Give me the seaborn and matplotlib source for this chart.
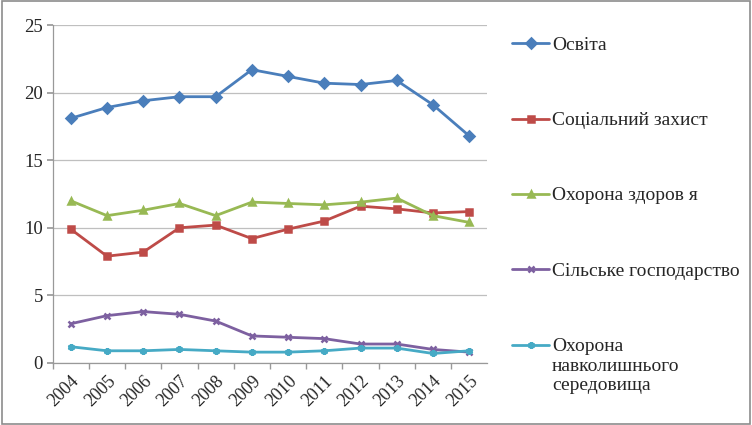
import matplotlib
matplotlib.use("Agg")
import matplotlib.pyplot as plt
import seaborn as sns
import pandas as pd
from matplotlib.patches import Rectangle

years = ["2004", "2005", "2006", "2007", "2008", "2009", "2010", "2011", "2012", "2013", "2014", "2015"]
osvita = [18.1, 18.9, 19.4, 19.7, 19.7, 21.7, 21.2, 20.7, 20.6, 20.9, 19.1, 16.8]
social = [9.9, 7.9, 8.2, 10.0, 10.2, 9.2, 9.9, 10.5, 11.6, 11.4, 11.1, 11.2]
health = [12.0, 10.9, 11.3, 11.8, 10.9, 11.9, 11.8, 11.7, 11.9, 12.2, 10.9, 10.4]
agri = [2.9, 3.5, 3.8, 3.6, 3.1, 2.0, 1.9, 1.8, 1.4, 1.4, 1.0, 0.8]
env = [1.2, 0.9, 0.9, 1.0, 0.9, 0.8, 0.8, 0.9, 1.1, 1.1, 0.7, 0.9]
labels = ["Освіта", "Соціальний захист", "Охорона здоров я", "Сільське господарство",
          "Охорона\nнавколишнього\nсередовища"]

series = [osvita, social, health, agri, env]
colors = ["#4A7EBB", "#BE4B48", "#98B954", "#7D60A0", "#46AAC5"]
markers = ["D", "s", "^", "x", (6, 2, 0)]
msizes = [8.5, 9, 9.5, 10, 10]

sns.set_theme(style="white")
plt.rcParams["font.family"] = "serif"
plt.rcParams["font.serif"] = ["Liberation Serif", "DejaVu Serif"]

fig = plt.figure(figsize=(7.52, 4.25), dpi=100)
ax = fig.add_axes([0.070, 0.146, 0.578, 0.795])

pos = list(range(len(years)))
for vals, lab, c, m, ms in zip(series, labels, colors, markers, msizes):
    df = pd.DataFrame({"x": pos, "y": vals})
    sns.lineplot(data=df, x="x", y="y", ax=ax, color=c, marker=m, markersize=ms,
                 linewidth=2.5, markeredgecolor=c, markeredgewidth=1.8, label=lab)

ax.set_xlim(-0.5, len(years) - 0.5)
ax.set_ylim(0, 25)
ax.set_yticks([0, 5, 10, 15, 20, 25])
ax.set_xticks(pos)
ax.set_xticklabels(years, rotation=45, ha="right", rotation_mode="anchor", fontsize=13,
                   fontfamily="Liberation Serif")
for t in ax.get_yticklabels():
    t.set_fontfamily("Liberation Serif")
ax.set_xticks([p + 0.5 for p in pos[:-1]] + [-0.5], minor=True)
ax.tick_params(axis="x", which="major", length=0, pad=7)
ax.tick_params(axis="x", which="minor", length=4, color="#999999", direction="out", bottom=True)
ax.tick_params(axis="y", labelsize=13.5, length=4, color="#999999", left=True, pad=3)
ax.set_xlabel("")
ax.set_ylabel("")
ax.grid(axis="y", color="#BFBFBF", linewidth=0.9)
for s in ["top", "right"]:
    ax.spines[s].set_visible(False)
for s in ["left", "bottom"]:
    ax.spines[s].set_color("#999999")
    ax.spines[s].set_linewidth(0.9)

handles, labs = ax.get_legend_handles_labels()
ax.legend_.remove()
for h in handles:
    h.set_markersize(5)
    h.set_linewidth(2)
leg = fig.legend(handles, labs, loc="upper left", bbox_to_anchor=(0.658, 0.955),
                 frameon=False, handlelength=1.9, handletextpad=0.15,
                 labelspacing=3.0, alignment="left",
                 prop={"family": "Liberation Serif", "size": 14})
for col in leg._legend_handle_box.get_children():
    for row in col.get_children():
        row.align = "top"

fig.patches.append(Rectangle((0.002, 0.003), 0.996, 0.994, transform=fig.transFigure,
                             fill=False, edgecolor="#8C8C8C", linewidth=1.2))

fig.savefig("out.png", dpi=100)
